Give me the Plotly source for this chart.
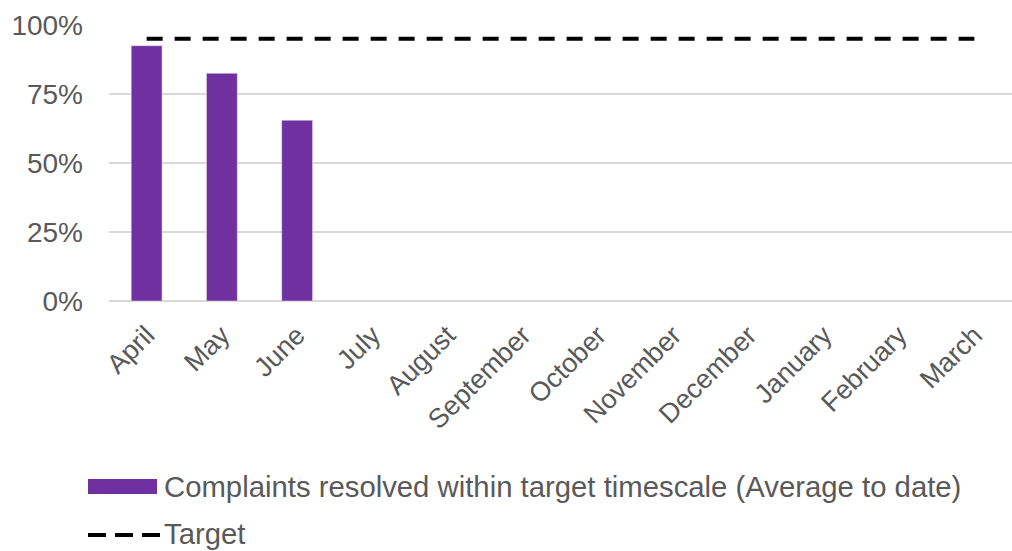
import plotly.graph_objects as go

months = ["April", "May", "June", "July", "August", "September", "October",
          "November", "December", "January", "February", "March"]
resolved = [92.5, 82.5, 65.5, None, None, None, None, None, None, None, None, None]
target = [95, 95, 95, 95, 95, 95, 95, 95, 95, 95, 95, 95]
y_ticks = [0, 25, 50, 75, 100]
y_tick_labels = ["0%", "25%", "50%", "75%", "100%"]
bar_name = "Complaints resolved within target timescale (Average to date)"
target_name = "Target"

W, H = 1012, 551
L, R, T, B = 109, 0, 25, 250
PW, PH = W - L - R, H - T - B

def px(x):
    return (x - L) / PW

def py(y):
    return (H - B - y) / PH

FONT = "Liberation Sans, Arial, sans-serif"
GREY = "#595959"
PURPLE = "#7030A0"

fig = go.Figure()
fig.add_trace(go.Bar(x=months, y=resolved, name=bar_name, marker_color=PURPLE,
                     width=0.41, showlegend=False))
fig.add_trace(go.Scatter(x=months, y=target, name=target_name, mode="lines",
                         line=dict(color="black", width=4, dash="16px,12px"),
                         showlegend=False))

# manual legend
fig.add_shape(type="rect", xref="paper", yref="paper",
              x0=px(88), x1=px(157), y0=py(479), y1=py(494),
              fillcolor=PURPLE, line=dict(width=0))
fig.add_shape(type="line", xref="paper", yref="paper",
              x0=px(88), x1=px(160), y0=py(535), y1=py(535),
              line=dict(color="black", width=4, dash="18px,9px"))
fig.add_annotation(xref="paper", yref="paper", x=px(162), y=py(487),
                   text=bar_name, showarrow=False, xanchor="left", yanchor="middle",
                   font=dict(family=FONT, size=29.3, color=GREY))
fig.add_annotation(xref="paper", yref="paper", x=px(162), y=py(533),
                   text=target_name, showarrow=False, xanchor="left", yanchor="middle",
                   font=dict(family=FONT, size=29.3, color=GREY))

fig.update_layout(
    width=W, height=H,
    margin=dict(l=L, r=R, t=T, b=B),
    plot_bgcolor="white", paper_bgcolor="white",
    font=dict(family=FONT, size=28, color=GREY),
    bargap=0.59,
    xaxis=dict(type="category", range=[-0.5, 11.5], tickangle=-45,
               showgrid=False, showline=False, ticks="", ticklabelstandoff=12,
               tickfont=dict(family=FONT, size=27, color=GREY)),
    yaxis=dict(range=[0, 100], tickvals=y_ticks, ticktext=y_tick_labels,
               showgrid=True, gridcolor="#d9d9d9", gridwidth=1.5,
               zeroline=True, zerolinecolor="#d9d9d9", zerolinewidth=1.5,
               showline=False, ticks="", ticklabelstandoff=25,
               tickfont=dict(family=FONT, size=28, color=GREY)),
)

fig.write_html("out.html")
